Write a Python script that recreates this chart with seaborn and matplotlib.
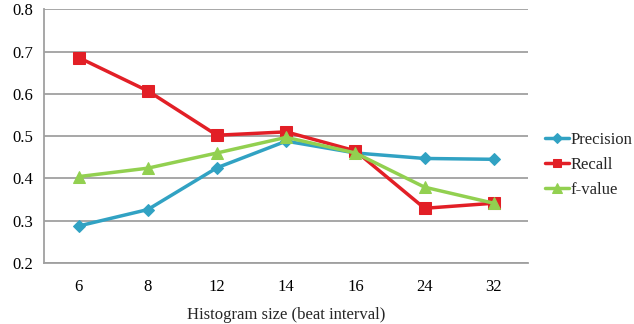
import pandas as pd
import matplotlib.pyplot as plt
import seaborn as sns

# Histogram sizes (beat interval)
sizes = ["6", "8", "12", "14", "16", "24", "32"]

precision = [0.287, 0.326, 0.425, 0.488, 0.460, 0.447, 0.445]
recall = [0.686, 0.607, 0.502, 0.510, 0.465, 0.329, 0.341]
f_value = [0.404, 0.424, 0.460, 0.497, 0.460, 0.379, 0.341]

series = [("Precision", precision, "#31A2C3", "D", 6),
          ("Recall", recall, "#E21F26", "s", 8),
          ("f-value", f_value, "#92D050", "^", 9)]

sns.set_style("white")
plt.rcParams['font.family'] = ['Liberation Serif', 'DejaVu Serif']

fig = plt.figure(figsize=(6.34, 3.24), dpi=100)
ax = fig.add_axes([0.0694, 0.189, 0.764, 0.782])

for name, vals, color, marker, msize in series:
    df = pd.DataFrame({"size": sizes, "value": vals})
    sns.lineplot(data=df, x="size", y="value", ax=ax, color=color, marker=marker,
                 markersize=msize, markeredgecolor=color, linewidth=2.5, label=name,
                 sort=False)

ax.set_xlim(-0.5, len(sizes) - 0.5)
ax.set_ylim(0.2, 0.8)
ax.set_yticks([0.2, 0.3, 0.4, 0.5, 0.6, 0.7, 0.8])
ax.set_yticklabels(["0.2", "0.3", "0.4", "0.5", "0.6", "0.7", "0.8"])
ax.yaxis.grid(True, color="#A0A0A0", linewidth=1.3)
ax.set_axisbelow(True)
ax.tick_params(axis="both", length=0, labelsize=12, colors="black")
ax.tick_params(axis="x", pad=12)
ax.tick_params(axis="y", pad=8)

for side in ["top", "right"]:
    ax.spines[side].set_visible(False)
for side in ["left", "bottom"]:
    ax.spines[side].set_color("#A0A0A0")
    ax.spines[side].set_linewidth(1.3)

ax.set_xlabel("Histogram size (beat interval)", fontsize=12, labelpad=8)
ax.set_ylabel("")

ax.legend(loc="center left", bbox_to_anchor=(1.0, 0.386), frameon=False,
          fontsize=12, handlelength=1.45, handletextpad=0.05, labelspacing=0.55,
          borderaxespad=0.6, markerscale=0.8)

plt.savefig("out.png", dpi=100)
